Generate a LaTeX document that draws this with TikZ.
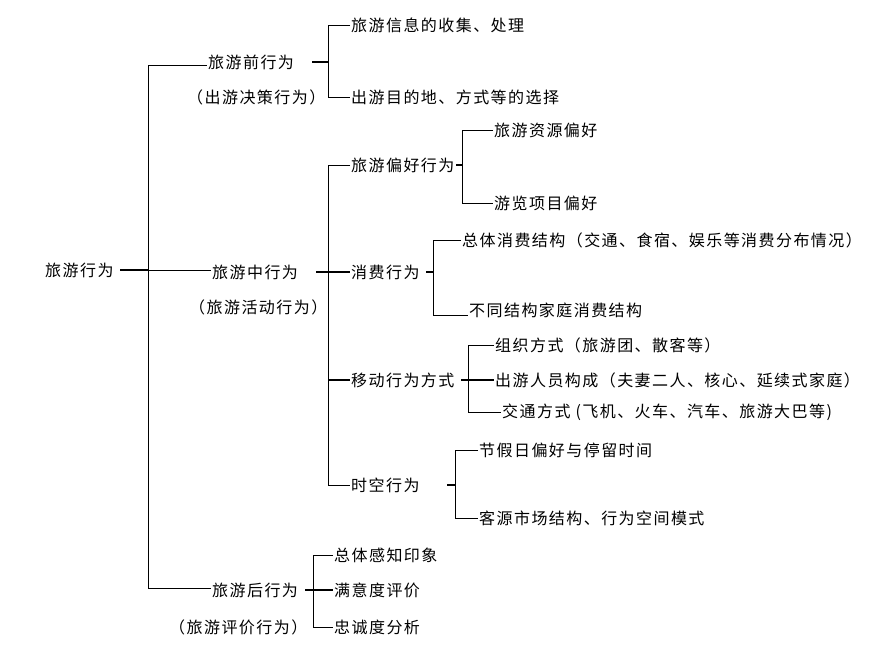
\documentclass[tikz,border=0pt]{standalone}
\usepackage{fontspec}
\setmainfont{Noto Sans CJK SC}[LetterSpace=9]
\begin{document}
\begin{tikzpicture}[x=1pt,y=-1pt,
  lbl/.style={anchor=west,inner sep=1pt,font=\fontsize{16}{18}\selectfont},
  ln/.style={draw=black,line width=0.8pt},
  stub/.style={draw=black,line width=1.8pt}]
\useasboundingbox (0,0) rectangle (882,653);
% root
\node[lbl] (root) at (44,270) {旅游行为};
\node[lbl] (pre) at (207,62) {旅游前行为};
\node[lbl] (prex) at (186,97) {（出游决策行为）};
\node[lbl] (mid) at (211,272) {旅游中行为};
\node[lbl] (midx) at (188,307) {（旅游活动行为）};
\node[lbl] (post) at (211,590) {旅游后行为};
\node[lbl] (postx) at (168,627) {（旅游评价行为）};
\draw[ln] (148,65) -- (148,588);
\draw[ln] (148,65) -- (pre.west|-0,65);
\draw[stub] (120,270) -- (148,270);
\draw[ln] (148,270) -- (mid.west|-0,270);
\draw[ln] (148,588) -- (post.west|-0,588);
% pre
\node[lbl] (a1) at (350,25) {旅游信息的收集、处理};
\node[lbl] (a2) at (350,97) {出游目的地、方式等的选择};
\draw[ln] (a1.west) -- (328,25) -- (328,97) -- (a2.west);
\draw[stub] (312,62) -- (328,62);
% mid
\node[lbl] (b1) at (350,165) {旅游偏好行为};
\node[lbl] (b2) at (350,272) {消费行为};
\node[lbl] (b3) at (350,380) {移动行为方式};
\node[lbl] (b4) at (350,485) {时空行为};
\draw[ln] (b1.west) -- (328,165) -- (328,485) -- (b4.west);
\draw[stub] (316,272) -- (b2.west);
\draw[stub] (328,380) -- (b3.west);
% b1
\node[lbl] (c1) at (493,130) {旅游资源偏好};
\node[lbl] (c2) at (493,203) {游览项目偏好};
\draw[ln] (c1.west) -- (462,130) -- (462,203) -- (c2.west);
\draw[stub] (456,165) -- (462,165);
% b2
\node[lbl] (d1) at (461,240) {总体消费结构（交通、食宿、娱乐等消费分布情况）};
\node[lbl] (d2) at (468,310) {不同结构家庭消费结构};
\draw[ln] (d1.west) -- (433,240) -- (433,315) -- (d2.west|-0,315);
\draw[stub] (426,272) -- (433,272);
% b3
\node[lbl] (e1) at (494,345) {组织方式（旅游团、散客等）};
\node[lbl] (e2) at (494,380) {出游人员构成（夫妻二人、核心、延续式家庭）};
\node[lbl] (e3) at (501,412) {交通方式 (飞机、火车、汽车、旅游大巴等)};
\draw[ln] (e1.west) -- (468,345) -- (468,412) -- (e3.west);
\draw[stub] (461,380) -- (468,380);
\draw[stub] (468,380) -- (e2.west);
% b4
\node[lbl] (f1) at (478,450) {节假日偏好与停留时间};
\node[lbl] (f2) at (478,518) {客源市场结构、行为空间模式};
\draw[ln] (f1.west) -- (455,450) -- (455,518) -- (f2.west);
\draw[stub] (447,485) -- (455,485);
% post
\node[lbl] (g1) at (333,555) {总体感知印象};
\node[lbl] (g2) at (333,590) {满意度评价};
\node[lbl] (g3) at (333,627) {忠诚度分析};
\draw[ln] (g1.west) -- (313,555) -- (313,627) -- (g3.west);
\draw[stub] (305,590) -- (313,590);
\draw[stub] (313,590) -- (g2.west);
\end{tikzpicture}
\end{document}
